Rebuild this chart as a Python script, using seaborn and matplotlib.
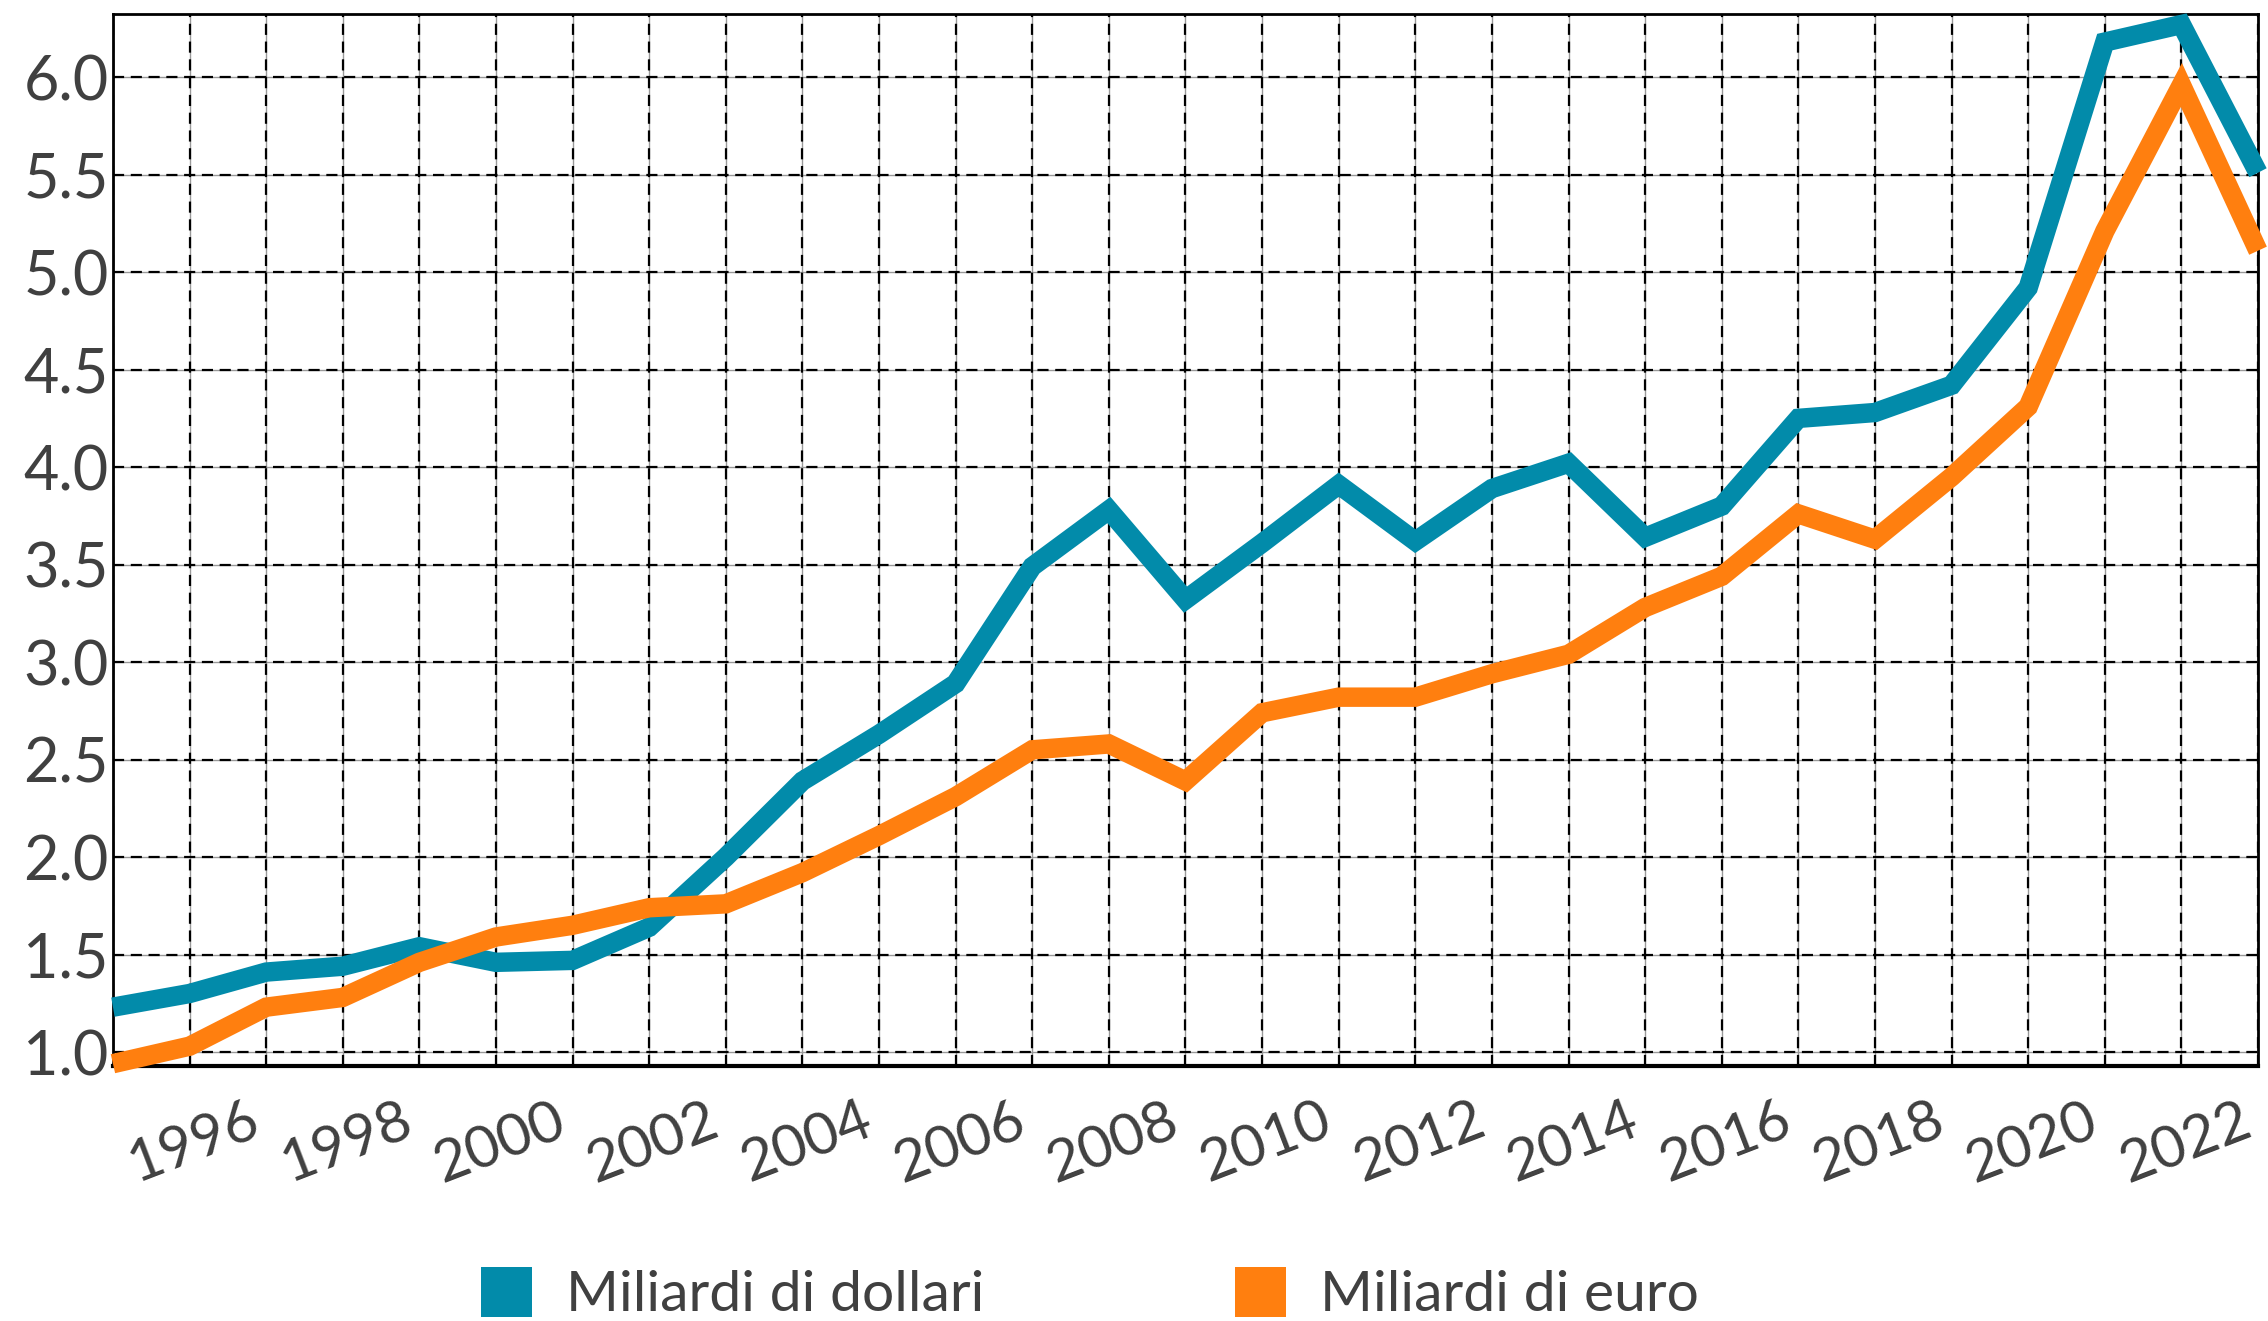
import numpy as np
import pandas as pd
import matplotlib.pyplot as plt
import seaborn as sns
from matplotlib.patches import Patch

# data
years = list(range(1994, 2023))
dollari = [1.23, 1.30, 1.41, 1.44, 1.54, 1.46, 1.47, 1.64, 2.00, 2.39,
           2.63, 2.89, 3.49, 3.78, 3.32, 3.61, 3.91, 3.62, 3.89, 4.02,
           3.64, 3.80, 4.25, 4.28, 4.42, 4.92, 6.18, 6.27, 5.51]
euro = [0.94, 1.03, 1.23, 1.28, 1.46, 1.59, 1.65, 1.74, 1.76, 1.92,
        2.11, 2.31, 2.55, 2.58, 2.39, 2.74, 2.82, 2.82, 2.94, 3.04,
        3.28, 3.44, 3.76, 3.63, 3.95, 4.31, 5.21, 5.96, 5.11]
series_names = ['Miliardi di dollari', 'Miliardi di euro']
colors = ['#028BAA', '#FF7F0F']
year_ticks = list(range(1996, 2023, 2))
y_ticks = [1.0, 1.5, 2.0, 2.5, 3.0, 3.5, 4.0, 4.5, 5.0, 5.5, 6.0]

df = pd.DataFrame({
    'anno': years * 2,
    'valore': dollari + euro,
    'serie': [series_names[0]] * len(years) + [series_names[1]] * len(years),
})

sns.set_style('white')
plt.rcParams['font.family'] = ['Lato', 'DejaVu Sans']
text_col = '#404040'

fig = plt.figure(figsize=(22.68, 13.21), dpi=100)
ax = fig.add_axes([0.0498, 0.193, 0.9458, 0.7964])

sns.lineplot(data=df, x='anno', y='valore', hue='serie', palette=colors,
             linewidth=14, legend=False, ax=ax, clip_on=False,
             solid_capstyle='butt', solid_joinstyle='miter', zorder=5)

ax.set_xlim(1994, 2022)
ax.set_ylim(0.928, 6.324)
ax.set_xticks(year_ticks)
ax.set_xticks(years, minor=True)
ax.set_yticks(y_ticks)
ax.set_yticklabels([f'{v:.1f}' for v in y_ticks])
ax.set_xlabel('')
ax.set_ylabel('')

# grid: thin grey solid under black dashes
for which in ['major', 'minor']:
    ax.grid(True, which=which, color='#999999', linewidth=1.0, linestyle='-')
ax.set_axisbelow(True)
for y in y_ticks:
    ax.axhline(y, color='black', linewidth=1.6, linestyle=(0, (5, 3)), zorder=1)
for x in years:
    ax.axvline(x, color='black', linewidth=1.6, linestyle=(0, (5, 3)), zorder=1)

for s in ax.spines.values():
    s.set_color('black')
    s.set_linewidth(2)
ax.spines['bottom'].set_linewidth(3)

ax.tick_params(axis='y', length=0, pad=3, labelsize=44, labelcolor=text_col)
ax.tick_params(axis='x', which='both', length=0, pad=20, labelsize=42,
               labelcolor=text_col)
plt.setp(ax.get_xticklabels(), rotation=21, ha='right')

handles = [Patch(facecolor=c, edgecolor='none') for c in colors]
fig.legend(handles, series_names, loc='center', bbox_to_anchor=(1090 / 2268, 27 / 1321),
           ncol=2, frameon=False, fontsize=41, handlelength=0.9, handleheight=1.0,
           handletextpad=0.6, columnspacing=4.4, labelcolor=text_col)

fig.savefig('out.png', dpi=100)
